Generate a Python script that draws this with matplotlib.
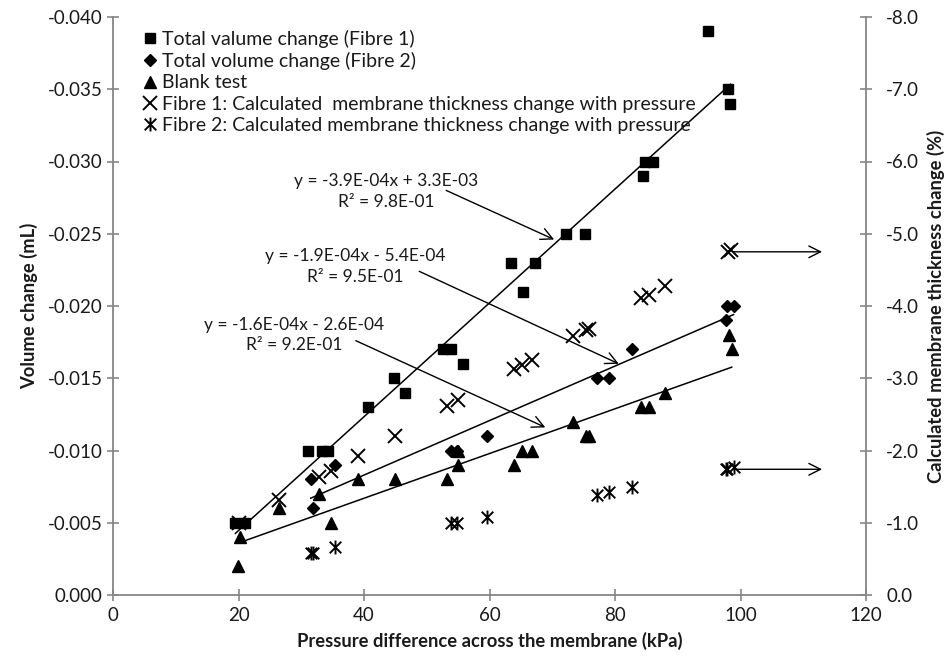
import numpy as np
import matplotlib
matplotlib.use("Agg")
import matplotlib.pyplot as plt
from matplotlib.path import Path

plt.rcParams['font.family'] = ['Lato', 'DejaVu Sans']

# ---- data ----
fibre1_x = [19.5, 21.0, 31.1, 33.3, 34.3, 40.6, 44.8, 46.6, 52.6, 53.8, 55.7, 63.5, 65.3, 67.2,
            72.2, 75.2, 84.4, 84.8, 86.0, 94.9, 98.0, 98.4]
fibre1_y = [-0.005, -0.005, -0.010, -0.010, -0.010, -0.013, -0.015, -0.014, -0.017, -0.017, -0.016,
            -0.023, -0.021, -0.023, -0.025, -0.025, -0.029, -0.030, -0.030, -0.039, -0.035, -0.034]

fibre2_x = [31.5, 31.8, 35.4, 53.8, 54.8, 59.6, 77.2, 79.0, 82.7, 97.7, 97.9, 98.9]
fibre2_y = [-0.008, -0.006, -0.009, -0.010, -0.010, -0.011, -0.015, -0.015, -0.017, -0.019, -0.020, -0.020]

blank_x = [19.9, 20.3, 26.5, 32.9, 34.7, 39.1, 44.9, 53.3, 55.0, 55.0, 63.9, 65.1, 66.7, 73.3,
           75.3, 75.9, 84.2, 85.4, 87.9, 98.2, 98.6]
blank_y = [-0.002, -0.004, -0.006, -0.007, -0.005, -0.008, -0.008, -0.008, -0.010, -0.009, -0.009,
           -0.010, -0.010, -0.012, -0.011, -0.011, -0.013, -0.013, -0.014, -0.018, -0.017]

thick1_x = [20.0, 26.5, 32.9, 34.7, 39.1, 44.9, 53.3, 55.0, 63.9, 65.1, 66.7, 73.3, 75.3, 75.9,
            84.2, 85.4, 87.9, 98.0, 98.5]
thick1_y = [-1.00, -1.31, -1.64, -1.72, -1.93, -2.20, -2.61, -2.70, -3.13, -3.19, -3.25, -3.58,
            -3.67, -3.68, -4.11, -4.15, -4.27, -4.75, -4.77]

thick2_x = [31.5, 31.8, 35.4, 53.8, 54.8, 59.6, 77.2, 79.0, 82.7, 97.7, 97.9, 98.9]
thick2_y = [-0.58, -0.58, -0.66, -0.99, -1.00, -1.08, -1.39, -1.42, -1.49, -1.75, -1.75, -1.77]

labels = ["Total valume change (Fibre 1)", "Total volume change (Fibre 2)", "Blank test",
          "Fibre 1: Calculated  membrane thickness change with pressure",
          "Fibre 2: Calculated membrane thickness change with pressure"]

eq_texts = ["y = -3.9E-04x + 3.3E-03\nR\u00b2 = 9.8E-01",
            "y = -1.9E-04x - 5.4E-04\nR\u00b2 = 9.5E-01",
            "y = -1.6E-04x - 2.6E-04\nR\u00b2 = 9.2E-01"]

x_ticks = [0, 20, 40, 60, 80, 100, 120]
y_ticks = [0.000, -0.005, -0.010, -0.015, -0.020, -0.025, -0.030, -0.035, -0.040]
y2_ticks = [0.0, -1.0, -2.0, -3.0, -4.0, -5.0, -6.0, -7.0, -8.0]

# ---- figure ----
fig = plt.figure(figsize=(9.46, 6.57), dpi=100)
ax = fig.add_axes([113/946, 62/657, 753/946, 578/657])
ax2 = ax.twinx()

grey = '#868686'
txtc = '#1a1a1a'
star = Path([(-1, -1), (1, 1), (-1, 1), (1, -1), (0, -1.2), (0, 1.2)],
            [Path.MOVETO, Path.LINETO, Path.MOVETO, Path.LINETO, Path.MOVETO, Path.LINETO])

h1, = ax.plot(fibre1_x, fibre1_y, 's', color='black', ms=7.5, ls='none')
h2, = ax.plot(fibre2_x, fibre2_y, 'D', color='black', ms=6.5, ls='none')
h3, = ax.plot(blank_x, blank_y, '^', color='black', ms=8.5, ls='none')
h4, = ax2.plot(thick1_x, thick1_y, 'x', color='black', ms=10, mew=1.4, ls='none')
h5, = ax2.plot(thick2_x, thick2_y, marker=star, color='black', ms=10, mew=1.4, ls='none')

# trendlines
for xs, ys in [(fibre1_x, fibre1_y), (fibre2_x, fibre2_y), (blank_x, blank_y)]:
    xs = np.array(xs); ys = np.array(ys)
    m, c = np.polyfit(xs, ys, 1)
    xx = np.array([xs.min(), xs.max()])
    ax.plot(xx, m * xx + c, color='black', lw=1.1, zorder=1)

# equation texts and arrows
eq_pos = [(43.5, -0.02792), (38.6, -0.02273), (28.8, -0.01799)]
arrows = [((53.1, -0.0280), (70.3, -0.0246)),
          ((48.8, -0.0224), (80.6, -0.0160)),
          ((38.7, -0.0176), (68.9, -0.0116))]
for t, p in zip(eq_texts, eq_pos):
    ax.text(p[0], p[1], t, ha='center', va='center', fontsize=12.5, linespacing=1.35,
            color=txtc)
for s, e in arrows:
    ax.annotate('', xy=e, xytext=s,
                arrowprops=dict(arrowstyle='->,head_length=0.6,head_width=0.3', lw=1.0,
                                color='black', mutation_scale=14, shrinkA=0, shrinkB=0))
for yv in [-4.75, -1.74]:
    ax2.annotate('', xy=(113.0, yv), xytext=(98.8, yv),
                 arrowprops=dict(arrowstyle='->,head_length=0.6,head_width=0.3', lw=1.0,
                                 color='black', mutation_scale=14, shrinkA=0, shrinkB=0))

# axes
ax.set_xlim(0, 120)
ax.set_ylim(0, -0.040)
ax2.set_ylim(0, -8.0)
ax.set_xticks(x_ticks)
ax.set_yticks(y_ticks)
ax2.set_yticks(y2_ticks)
ax.set_yticklabels([f"{v:.3f}" for v in y_ticks])
ax2.set_yticklabels([f"{v:.1f}" if v != 0 else "0.0" for v in y2_ticks])

for a in (ax, ax2):
    for s in a.spines.values():
        s.set_color(grey)
        s.set_linewidth(1.3)
    a.spines['top'].set_visible(False)
ax.spines['right'].set_visible(False)
ax2.spines['left'].set_visible(False)
ax2.spines['bottom'].set_visible(False)

ax.tick_params(axis='both', direction='inout', length=9, width=1.2, color=grey,
               labelsize=13.5, labelcolor=txtc)
ax.tick_params(axis='y', pad=3)
ax.tick_params(axis='x', pad=4)
ax2.tick_params(axis='y', direction='inout', length=9, width=1.2, color=grey,
                labelsize=13.5, labelcolor=txtc, pad=10)

ax.set_xlabel("Pressure difference across the membrane (kPa)", fontsize=13.2,
              fontweight='bold', color=txtc)
ax.set_ylabel("Volume change (mL)", fontsize=13.2, fontweight='bold', color=txtc)
ax2.set_ylabel("Calculated membrane thickness change (%)", fontsize=13.2,
               fontweight='bold', color=txtc)
ax.xaxis.set_label_coords(0.5, -0.064)
ax.yaxis.set_label_coords(-0.100, 0.5)
ax2.yaxis.set_label_coords(1.081, 0.5)

leg = ax2.legend([h1, h2, h3, h4, h5], labels, loc='upper left', frameon=False,
                 bbox_to_anchor=(0.039, 0.978), fontsize=14, handlelength=0.8,
                 handletextpad=0.2, labelspacing=0.22, borderpad=0, borderaxespad=0)
for t in leg.get_texts():
    t.set_color(txtc)

fig.savefig("out.png", dpi=100)
